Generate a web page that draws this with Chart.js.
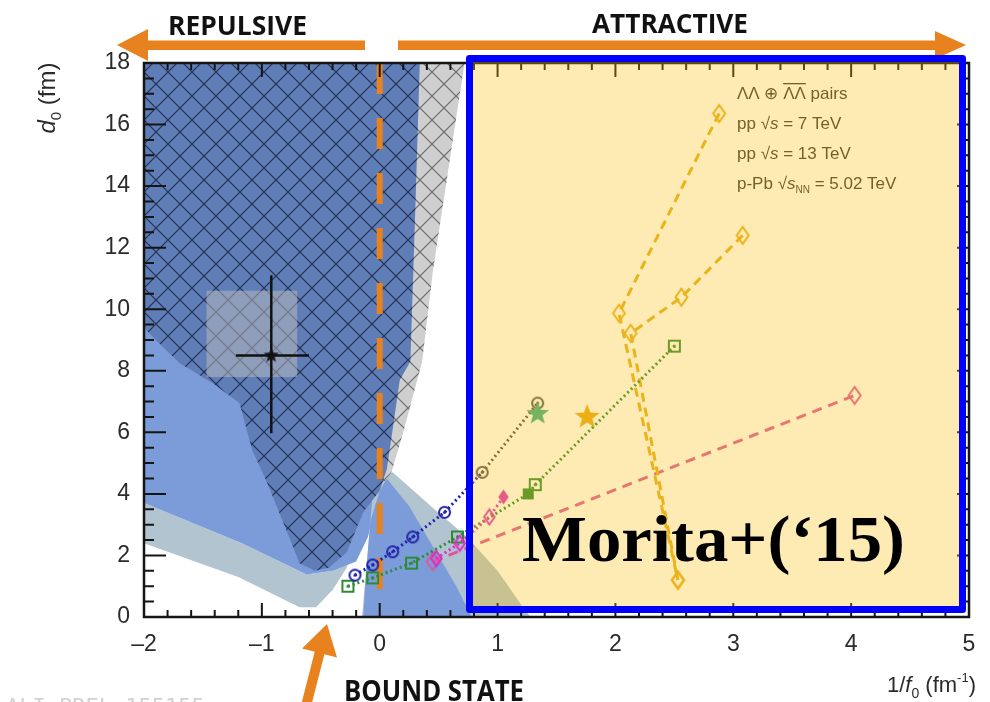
<!DOCTYPE html>
<html>
<head>
<meta charset="utf-8">
<script src="https://cdn.jsdelivr.net/npm/chart.js@4.4.1/dist/chart.umd.min.js"></script>
<style>
html, body { margin: 0; padding: 0; background: #fff; }
#wrap { width: 990px; height: 702px; position: relative; }
</style>
</head>
<body>
<div id="wrap"><canvas id="chart" width="990" height="702"></canvas></div>
<script>
var chartEl = document.getElementById('chart');
var ctx0 = chartEl.getContext('2d');

// axis ranges
var xMin = -2, xMax = 5, yMin = 0, yMax = 18;

// model regions (1/f0, d0) outlines
var hatchX = [-2, 0.34, 0.30, 0.26, 0.17, 0.11, 0.06, 0.0, -0.14, -0.28, -0.43, -0.55, -0.68, -0.79, -0.96, -1.08, -1.13, -1.19, -1.42, -1.70, -1.90, -2];
var hatchY = [18, 18, 13, 8.3, 7.7, 6.1, 4.8, 4.1, 3.4, 2.1, 1.6, 1.5, 1.75, 2.8, 4.4, 5.4, 6.1, 6.95, 7.6, 8.25, 9.0, 9.4];
var greyHatchX = [0.2, 0.72, 0.62, 0.45, 0.36, 0.2, 0.1, 0.0, 0.0];
var greyHatchY = [18, 18, 15.5, 11.2, 8.3, 6.0, 4.7, 4.2, 10];
var lightX = [-2, -1.0, -0.3, 0.0, -0.1, -0.2, -0.4, -0.62, -1.17, -2];
var lightY = [9.6, 9.6, 4.0, 4.1, 2.6, 1.8, 1.5, 1.38, 2.4, 3.7];
var bandX = [-2, -1.17, -0.62, -0.4, -0.25, -0.28, -0.4, -0.54, -0.68, -1.2, -2];
var bandY = [3.7, 2.4, 1.38, 1.5, 2.0, 1.6, 0.88, 0.32, 0.32, 1.3, 2.4];
var wedgeOutX = [-0.05, 0.11, 0.45, 0.74, 1.0, 1.2, 1.28, -0.15];
var wedgeOutY = [4.4, 4.7, 3.55, 2.6, 1.5, 0.4, 0, 0];
var wedgeInX = [0.0, 0.06, 0.25, 0.45, 0.65, 0.78, -0.14, -0.12, -0.08];
var wedgeInY = [4.1, 4.5, 3.6, 2.3, 1.0, 0, 0, 1.2, 3.1];

// STAR measurement
var boxX = [-1.47, -0.70, -0.70, -1.47];
var boxY = [7.8, 7.8, 10.6, 10.6];
var starX = [-0.92], starY = [8.5];
var errXlo = -1.22, errXhi = -0.60, errYlo = 5.97, errYhi = 11.1;

// unitary limit line
var zeroLineX = [0, 0], zeroLineY = [18, 0.6];

// ALICE points
var blueX = [-0.21, -0.06, 0.11, 0.28, 0.55, 0.87];
var blueY = [1.36, 1.69, 2.12, 2.6, 3.4, 4.7];
var greyX = [0.87, 1.34];
var greyY = [4.7, 6.95];
var greenX = [-0.27, -0.06, 0.27, 0.66, 1.26, 1.32, 2.5];
var greenY = [1.0, 1.27, 1.75, 2.6, 4.0, 4.3, 8.8];
var magX = [0.48, 0.68, 0.93, 1.05];
var magY = [1.9, 2.4, 3.25, 3.9];
var pinkX = [0.45, 4.03];
var pinkY = [1.8, 7.2];
var goldAX = [2.88, 2.03, 2.53];
var goldAY = [16.36, 9.87, 1.2];
var goldBX = [3.08, 2.56, 2.13, 2.53];
var goldBY = [12.4, 10.39, 9.22, 1.2];
var goldStarX = [1.76], goldStarY = [6.5];
var tealStarX = [1.34], tealStarY = [6.6];

function pts(xs, ys) {
    return xs.map(function (x, i) { return {x: x, y: ys[i]}; });
}

function hatch(bg, line, lw) {
    var t = document.createElement('canvas');
    t.width = t.height = 24;
    var g = t.getContext('2d');
    g.fillStyle = bg;
    g.fillRect(0, 0, 24, 24);
    g.strokeStyle = line;
    g.lineWidth = lw;
    g.beginPath();
    for (var k = -1; k <= 1; k++) {
        g.moveTo(k * 24 - 2, -2); g.lineTo(k * 24 + 26, 26);
        g.moveTo(k * 24 + 26, -2); g.lineTo(k * 24 - 2, 26);
    }
    g.stroke();
    return ctx0.createPattern(t, 'repeat');
}

function marker(shape, color, size, filled, dot) {
    var c = document.createElement('canvas');
    c.width = c.height = size + 4;
    var g = c.getContext('2d'), h = (size + 4) / 2, r = size / 2;
    g.strokeStyle = color;
    g.fillStyle = color;
    g.lineWidth = 2;
    g.beginPath();
    if (shape === 'circle') {
        g.arc(h, h, r - 1, 0, Math.PI * 2);
    } else if (shape === 'square') {
        g.rect(h - r + 1, h - r + 1, size - 2, size - 2);
    } else if (shape === 'diamond') {
        g.moveTo(h, h - r); g.lineTo(h + r * 0.7, h); g.lineTo(h, h + r); g.lineTo(h - r * 0.7, h); g.closePath();
    } else if (shape === 'star') {
        for (var i = 0; i < 10; i++) {
            var a = -Math.PI / 2 + i * Math.PI / 5, rr = i % 2 ? r * 0.42 : r;
            g.lineTo(h + rr * Math.cos(a), h + rr * Math.sin(a));
        }
        g.closePath();
    }
    if (filled) g.fill(); else g.stroke();
    if (dot) { g.beginPath(); g.arc(h, h, 1.6, 0, Math.PI * 2); g.fill(); }
    return c;
}

function region(xs, ys, fillStyle, order) {
    return {
        data: pts(xs, ys), showLine: true, fill: 'shape',
        backgroundColor: fillStyle, borderColor: 'rgba(0,0,0,0)', borderWidth: 0,
        pointRadius: 0, order: order
    };
}

function series(xs, ys, color, dash, width, styles, radii, order) {
    return {
        data: pts(xs, ys), showLine: true, fill: false,
        borderColor: color, borderWidth: width, borderDash: dash,
        pointStyle: styles, pointRadius: radii, order: order
    };
}

var blueC = '#2323a8', greyC = '#505050', greenC = '#2f8a35', magC = '#dc2fc0', pinkC = '#e0559e', goldC = '#e4ae22';
var circB = marker('circle', blueC, 13, false, true);
var circG = marker('circle', greyC, 13, false, true);
var sqG = marker('square', greenC, 13, false, true);
var sqGf = marker('square', greenC, 13, true, false);
var diaM = marker('diamond', magC, 15, false, false);
var diaMf = marker('diamond', magC, 15, true, false);
var diaP = marker('diamond', pinkC, 17, false, false);
var diaGold = marker('diamond', goldC, 17, false, false);
var starGold = marker('star', '#e6a81c', 26, true, false);
var starTeal = marker('star', '#3aae86', 24, true, false);
var starBlack = marker('star', '#111', 16, true, false);

var datasets = [
    region(bandX, bandY, '#b3c4d1', 30),
    region(lightX, lightY, '#7b9cd8', 29),
    region(wedgeOutX, wedgeOutY, '#b3c4d1', 28),
    region(wedgeInX, wedgeInY, '#7b9cd8', 27),
    region(greyHatchX, greyHatchY, hatch('#cfcfcf', '#6a6a6a', 1.2), 26),
    region(hatchX, hatchY, hatch('#5f7db7', '#24304f', 1.2), 25),
    region(boxX, boxY, 'rgba(190,190,190,0.5)', 24),
    series(zeroLineX, zeroLineY, '#e8821e', [31, 24], 6, false, 0, 23),
    series([errXlo, errXhi], [starY[0], starY[0]], '#111', [], 2.5, false, 0, 2),
    series([starX[0], starX[0]], [errYlo, errYhi], '#111', [], 2.5, false, 0, 2),
    series(starX, starY, '#111', [], 0, starBlack, 8, 1),
    series(pinkX, pinkY, pinkC, [10, 7], 3, diaP, 8, 9),
    series(goldAX, goldAY, goldC, [9, 6], 3, diaGold, 8, 8),
    series(goldBX, goldBY, goldC, [9, 6], 3, diaGold, 8, 8),
    series(greenX, greenY, greenC, [2, 3], 3, [sqG, sqG, sqG, sqG, sqGf, sqG, sqG], 7, 7),
    series(magX, magY, magC, [2, 3], 3, [diaM, diaM, diaM, diaMf], 7, 6),
    series(blueX, blueY, blueC, [2, 3], 3, circB, [7, 7, 7, 7, 7, 0], 5),
    series(greyX, greyY, greyC, [2, 3], 3, circG, 7, 4),
    series(goldStarX, goldStarY, goldC, [], 0, starGold, 12, 1),
    series(tealStarX, tealStarY, '#3aae86', [], 0, starTeal, 12, 1)
];

function drawRuns(ctx, x, y, parts, align) {
    var w = 0;
    parts.forEach(function (p) { ctx.font = p.f; w += ctx.measureText(p.t).width; });
    var cx = align === 'right' ? x - w : (align === 'center' ? x - w / 2 : x);
    parts.forEach(function (p) {
        ctx.font = p.f;
        var pw = ctx.measureText(p.t).width;
        ctx.fillText(p.t, cx, y + (p.dy || 0));
        if (p.over) {
            ctx.fillRect(cx, y - 16, pw, 1.3);
        }
        cx += pw;
    });
}

function fitText(ctx, text, font, x, y, w) {
    ctx.font = font;
    var m = ctx.measureText(text).width;
    ctx.save();
    ctx.translate(x, y);
    ctx.scale(w / m, 1);
    ctx.fillText(text, 0, 0);
    ctx.restore();
}

function poly(ctx, p) {
    ctx.beginPath();
    ctx.moveTo(p[0][0], p[0][1]);
    for (var i = 1; i < p.length; i++) ctx.lineTo(p[i][0], p[i][1]);
    ctx.closePath();
    ctx.fill();
}

var frameTicks = {
    id: 'frameTicks',
    afterDatasetsDraw: function (chart) {
        var ctx = chart.ctx, a = chart.chartArea, xs = chart.scales.x, ys = chart.scales.y;
        ctx.save();
        ctx.strokeStyle = '#151515';
        ctx.lineWidth = 2;
        ctx.beginPath();
        var i, v, p;
        for (i = 0; i <= 35; i++) {
            v = xMin + i * 0.2;
            p = xs.getPixelForValue(v);
            var len = i % 5 === 0 ? 14 : 7;
            ctx.moveTo(p, a.bottom); ctx.lineTo(p, a.bottom - len);
            ctx.moveTo(p, a.top); ctx.lineTo(p, a.top + len);
        }
        for (i = 0; i <= 36; i++) {
            v = i * 0.5;
            p = ys.getPixelForValue(v);
            ctx.moveTo(a.left, p); ctx.lineTo(a.left + (i % 4 === 0 ? 22 : 10), p);
            ctx.moveTo(a.right, p); ctx.lineTo(a.right - (i % 4 === 0 ? 12 : 6), p);
        }
        ctx.stroke();
        ctx.lineWidth = 2.5;
        ctx.strokeRect(a.left, a.top, a.right - a.left, a.bottom - a.top);
        ctx.restore();
    },
    afterDraw: function (chart) {
        var ctx = chart.ctx;
        ctx.save();
        ctx.textBaseline = 'alphabetic';
        ctx.textAlign = 'left';

        // axis titles
        ctx.fillStyle = '#2b2b2b';
        ctx.save();
        ctx.translate(55, 98);
        ctx.rotate(-Math.PI / 2);
        drawRuns(ctx, 0, 0, [
            {t: 'd', f: 'italic 24px "Liberation Sans"'},
            {t: '0', f: '15px "Liberation Sans"', dy: 6},
            {t: ' (fm)', f: '24px "Liberation Sans"'}
        ], 'center');
        ctx.restore();
        drawRuns(ctx, 976, 692, [
            {t: '1/', f: '22px "Liberation Sans"'},
            {t: 'f', f: 'italic 22px "Liberation Sans"'},
            {t: '0', f: '14px "Liberation Sans"', dy: 6},
            {t: ' (fm', f: '22px "Liberation Sans"'},
            {t: '-1', f: '13px "Liberation Sans"', dy: -10},
            {t: ')', f: '22px "Liberation Sans"'}
        ], 'right');

        // legend text
        ctx.fillStyle = '#363636';
        var lf = '17px "Liberation Sans"', li = 'italic 17px "Liberation Sans"';
        drawRuns(ctx, 737, 99, [
            {t: '\u039B\u039B \u2295 ', f: lf},
            {t: '\u039B\u039B', f: lf, over: true},
            {t: ' pairs', f: lf}
        ]);
        drawRuns(ctx, 737, 129, [{t: 'pp \u221A', f: lf}, {t: 's', f: li}, {t: ' = 7 TeV', f: lf}]);
        drawRuns(ctx, 737, 159, [{t: 'pp \u221A', f: lf}, {t: 's', f: li}, {t: ' = 13 TeV', f: lf}]);
        drawRuns(ctx, 737, 189, [{t: 'p-Pb \u221A', f: lf}, {t: 's', f: li}, {t: 'NN', f: '10px "Liberation Sans"', dy: 4}, {t: ' = 5.02 TeV', f: lf}]);

        // arrows and labels outside the frame
        ctx.fillStyle = '#e8821e';
        poly(ctx, [[117, 45], [148, 29], [148, 40.5], [365, 40.5], [365, 50], [148, 50], [148, 61]]);
        poly(ctx, [[398, 40.5], [935, 40.5], [935, 31], [966, 45], [935, 59], [935, 50], [398, 50]]);
        var tip = [327, 624], tail = [306, 706];
        var dx = tip[0] - tail[0], dy = tip[1] - tail[1], L = Math.sqrt(dx * dx + dy * dy);
        var ux = dx / L, uy = dy / L, nx = -uy, ny = ux;
        var bx = tip[0] - ux * 30, by = tip[1] - uy * 30;
        poly(ctx, [
            [tail[0] + nx * 5, tail[1] + ny * 5], [bx + nx * 5, by + ny * 5], [bx + nx * 18, by + ny * 18],
            tip, [bx - nx * 18, by - ny * 18], [bx - nx * 5, by - ny * 5], [tail[0] - nx * 5, tail[1] - ny * 5]
        ]);
        ctx.fillStyle = '#111';
        fitText(ctx, 'REPULSIVE', 'bold 27px "Open Sans"', 168, 35, 139);
        fitText(ctx, 'ATTRACTIVE', 'bold 27px "Open Sans"', 592, 33, 156);
        fitText(ctx, 'BOUND STATE', 'bold 28px "Open Sans"', 344, 701, 180);
        ctx.fillStyle = '#d2d2d2';
        ctx.font = '22px "DejaVu Sans Mono"';
        ctx.fillText('ALI-PREL-155155', 6, 714);

        // highlighted region
        ctx.fillStyle = 'rgba(250,192,10,0.31)';
        ctx.fillRect(466, 55, 500, 558);
        ctx.strokeStyle = '#0000ff';
        ctx.lineWidth = 7;
        ctx.lineJoin = 'round';
        ctx.strokeRect(469.5, 58.5, 493, 551);
        ctx.fillStyle = '#000';
        fitText(ctx, 'Morita+(\u201815)', 'bold 66px "Liberation Serif"', 522, 561, 383);
        ctx.restore();
    }
};

new Chart(chartEl, {
    type: 'scatter',
    data: {datasets: datasets},
    options: {
        responsive: false,
        animation: false,
        layout: {padding: {top: 63, right: 21, left: 0, bottom: 0}},
        plugins: {legend: {display: false}, tooltip: {enabled: false}},
        scales: {
            x: {
                type: 'linear', min: xMin, max: xMax,
                grid: {display: false}, border: {display: false},
                afterFit: function (s) { s.height = 85; },
                ticks: {
                    stepSize: 1, autoSkip: false, maxRotation: 0, padding: 6,
                    color: '#2b2b2b', font: {family: 'Liberation Sans', size: 23},
                    callback: function (v) { return v < 0 ? '\u2013' + Math.abs(v) : String(v); }
                }
            },
            y: {
                type: 'linear', min: yMin, max: yMax,
                grid: {display: false}, border: {display: false},
                afterFit: function (s) { s.width = 144; },
                ticks: {
                    stepSize: 2, padding: 6,
                    color: '#2b2b2b', font: {family: 'Liberation Sans', size: 23}
                }
            }
        }
    },
    plugins: [frameTicks]
});
</script>
</body>
</html>
